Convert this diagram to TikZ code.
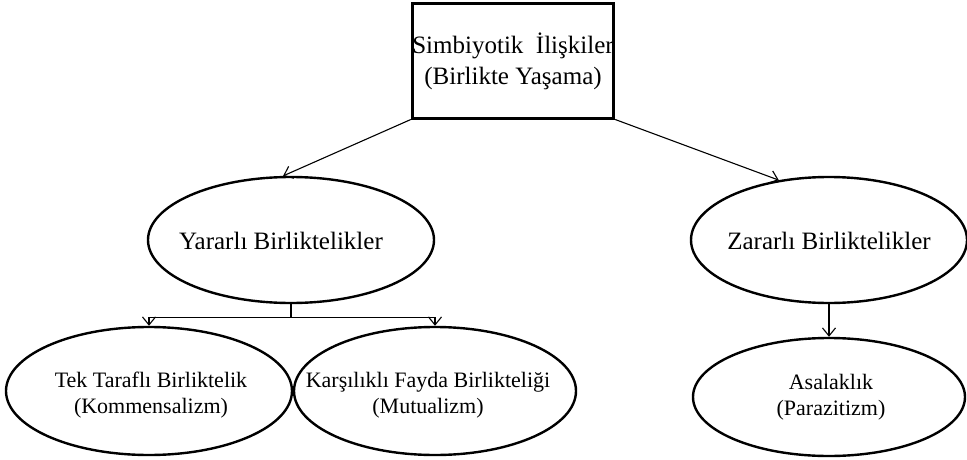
\documentclass[tikz,border=0pt]{standalone}
\usepackage{fontspec}
\setmainfont{Liberation Serif}
\usetikzlibrary{shapes.geometric,arrows.meta}
\tikzset{
  topbox/.style={draw,line width=3pt,inner sep=0pt,minimum width=198pt,minimum height=114pt,align=center,font=\fontsize{25}{31}\selectfont},
  ell/.style={draw,ellipse,line width=2.4pt,inner sep=0pt},
  bigtxt/.style={inner sep=0pt,align=center,font=\fontsize{25}{30}\selectfont},
  smalltxt/.style={inner sep=0pt,align=center,font=\fontsize{22}{26}\selectfont},
  conn/.style={line width=1.1pt,-{Straight Barb[length=8pt,width=13pt]}}
}
\begin{document}
\begin{tikzpicture}[x=1pt,y=-1pt]
\useasboundingbox (0,0) rectangle (967,460);
\node[topbox] (sim) at (513,61) {Simbiyotik \ İlişkiler\\(Birlikte Yaşama)};

% ikinci kat
\node[ell,minimum width=286pt,minimum height=126pt] (yar) at (291,240) {};
\node[bigtxt] (yart) at (281,241) {Yararlı Birliktelikler};
\node[ell,minimum width=276pt,minimum height=126pt] (zar) at (829,240) {};
\node[bigtxt] (zart) at (829,241) {Zararlı Birliktelikler};

% alt kat
\node[ell,minimum width=286pt,minimum height=128pt] (tek) at (149,391) {};
\node[smalltxt] (tekt) at (151,395) {Tek Taraflı Birliktelik\\(Kommensalizm)};
\node[ell,minimum width=282pt,minimum height=128pt] (kar) at (435,391) {};
\node[smalltxt] (kart) at (428,395) {Karşılıklı Fayda Birlikteliği\\(Mutualizm)};
\node[ell,minimum width=272pt,minimum height=118pt] (asa) at (829,397) {};
\node[smalltxt] (asat) at (831,397) {Asalaklık\\(Parazitizm)};

\draw[conn] (sim.south west) -- (yar.97);
\draw[conn] (sim.south east) -- (zar.130);

\draw[line width=1.1pt] (yar.south) -- ++(0,13) coordinate (split);
\draw[conn] (split) -| (tek.north);
\draw[conn] (split) -| (kar.north);
\draw[conn] (zar.south) -- (asa.north);
\end{tikzpicture}
\end{document}
